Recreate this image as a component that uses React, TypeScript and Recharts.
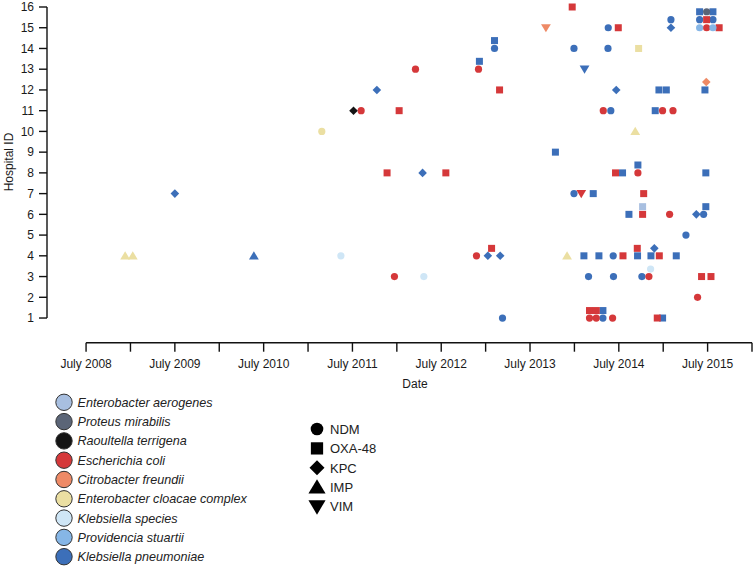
import React from 'react';
import { ScatterChart, Scatter, XAxis, YAxis, ReferenceLine } from 'recharts';

type Pt = { d: number; id: number; e: string };

// d = date as decimal year, id = hospital (fractional ids are stacked duplicates)
const kPneumoniae: Pt[] = [
  { d: 2009.5, id: 7, e: 'KPC' },
  { d: 2010.39, id: 4, e: 'IMP' },
  { d: 2011.775, id: 12, e: 'KPC' },
  { d: 2012.29, id: 8, e: 'KPC' },
  { d: 2012.93, id: 13.38, e: 'OXA' },
  { d: 2013.025, id: 4, e: 'KPC' },
  { d: 2013.1, id: 14.38, e: 'OXA' },
  { d: 2013.1, id: 14, e: 'NDM' },
  { d: 2013.164, id: 4, e: 'KPC' },
  { d: 2013.19, id: 1, e: 'NDM' },
  { d: 2013.786, id: 9, e: 'OXA' },
  { d: 2013.995, id: 14, e: 'NDM' },
  { d: 2013.995, id: 7, e: 'NDM' },
  { d: 2014.107, id: 4, e: 'OXA' },
  { d: 2014.114, id: 13, e: 'VIM' },
  { d: 2014.159, id: 3, e: 'NDM' },
  { d: 2014.212, id: 7, e: 'OXA' },
  { d: 2014.276, id: 4, e: 'OXA' },
  { d: 2014.321, id: 1.36, e: 'OXA' },
  { d: 2014.321, id: 1, e: 'NDM' },
  { d: 2014.378, id: 14, e: 'NDM' },
  { d: 2014.381, id: 15, e: 'NDM' },
  { d: 2014.41, id: 11, e: 'NDM' },
  { d: 2014.437, id: 4, e: 'NDM' },
  { d: 2014.44, id: 3, e: 'NDM' },
  { d: 2014.471, id: 12, e: 'KPC' },
  { d: 2014.542, id: 8, e: 'OXA' },
  { d: 2014.614, id: 6, e: 'OXA' },
  { d: 2014.711, id: 4, e: 'OXA' },
  { d: 2014.715, id: 8.38, e: 'OXA' },
  { d: 2014.76, id: 3, e: 'NDM' },
  { d: 2014.862, id: 4, e: 'OXA' },
  { d: 2014.9, id: 4.36, e: 'KPC' },
  { d: 2014.91, id: 11, e: 'OXA' },
  { d: 2014.952, id: 12, e: 'OXA' },
  { d: 2014.993, id: 1, e: 'OXA' },
  { d: 2015.035, id: 12, e: 'OXA' },
  { d: 2015.087, id: 15.39, e: 'NDM' },
  { d: 2015.087, id: 15, e: 'KPC' },
  { d: 2015.147, id: 4, e: 'OXA' },
  { d: 2015.256, id: 5, e: 'NDM' },
  { d: 2015.373, id: 6, e: 'KPC' },
  { d: 2015.455, id: 6, e: 'NDM' },
  { d: 2015.47, id: 12, e: 'OXA' },
  { d: 2015.48, id: 8, e: 'OXA' },
  { d: 2015.48, id: 6.37, e: 'OXA' },
  { d: 2015.41, id: 15.77, e: 'OXA' },
  { d: 2015.41, id: 15.39, e: 'NDM' },
  { d: 2015.56, id: 15.77, e: 'OXA' },
  { d: 2015.56, id: 15.39, e: 'NDM' },
];

const eColi: Pt[] = [
  { d: 2011.598, id: 11, e: 'NDM' },
  { d: 2011.89, id: 8, e: 'OXA' },
  { d: 2011.973, id: 3, e: 'NDM' },
  { d: 2012.026, id: 11, e: 'OXA' },
  { d: 2012.21, id: 13, e: 'NDM' },
  { d: 2012.552, id: 8, e: 'OXA' },
  { d: 2012.897, id: 4, e: 'NDM' },
  { d: 2012.92, id: 13, e: 'NDM' },
  { d: 2013.067, id: 4.36, e: 'OXA' },
  { d: 2013.157, id: 12, e: 'OXA' },
  { d: 2013.975, id: 16, e: 'OXA' },
  { d: 2014.077, id: 7, e: 'VIM' },
  { d: 2014.17, id: 1.36, e: 'OXA' },
  { d: 2014.17, id: 1, e: 'NDM' },
  { d: 2014.246, id: 1.36, e: 'OXA' },
  { d: 2014.246, id: 1, e: 'NDM' },
  { d: 2014.325, id: 11, e: 'NDM' },
  { d: 2014.43, id: 1, e: 'NDM' },
  { d: 2014.463, id: 8, e: 'OXA' },
  { d: 2014.494, id: 15, e: 'OXA' },
  { d: 2014.547, id: 4, e: 'OXA' },
  { d: 2014.708, id: 4.36, e: 'OXA' },
  { d: 2014.715, id: 8, e: 'NDM' },
  { d: 2014.768, id: 6, e: 'OXA' },
  { d: 2014.78, id: 7, e: 'OXA' },
  { d: 2014.839, id: 3, e: 'NDM' },
  { d: 2014.933, id: 1, e: 'OXA' },
  { d: 2014.956, id: 4, e: 'OXA' },
  { d: 2014.993, id: 11, e: 'NDM' },
  { d: 2015.072, id: 6, e: 'NDM' },
  { d: 2015.11, id: 11, e: 'NDM' },
  { d: 2015.387, id: 2, e: 'NDM' },
  { d: 2015.432, id: 3, e: 'OXA' },
  { d: 2015.538, id: 3, e: 'OXA' },
  { d: 2015.489, id: 15.39, e: 'OXA' },
  { d: 2015.489, id: 15, e: 'NDM' },
  { d: 2015.63, id: 15, e: 'OXA' },
];

const eCloacae: Pt[] = [
  { d: 2008.94, id: 4, e: 'IMP' },
  { d: 2009.026, id: 4, e: 'IMP' },
  { d: 2011.155, id: 10, e: 'NDM' },
  { d: 2013.917, id: 4, e: 'IMP' },
  { d: 2014.685, id: 10, e: 'IMP' },
  { d: 2014.723, id: 14, e: 'OXA' },
];

const kSpecies: Pt[] = [
  { d: 2011.37, id: 4, e: 'NDM' },
  { d: 2012.304, id: 3, e: 'NDM' },
  { d: 2014.858, id: 3.36, e: 'NDM' },
];

const pStuartii: Pt[] = [
  { d: 2015.41, id: 15, e: 'NDM' },
  { d: 2015.56, id: 15, e: 'NDM' },
];

const eAerogenes: Pt[] = [{ d: 2014.768, id: 6.37, e: 'OXA' }];
const pMirabilis: Pt[] = [{ d: 2015.489, id: 15.77, e: 'NDM' }];
const rTerrigena: Pt[] = [{ d: 2011.512, id: 11, e: 'KPC' }];
const cFreundii: Pt[] = [
  { d: 2013.679, id: 15, e: 'VIM' },
  { d: 2015.485, id: 12.38, e: 'KPC' },
];

const ORGANISMS = [
  'Enterobacter aerogenes',
  'Proteus mirabilis',
  'Raoultella terrigena',
  'Escherichia coli',
  'Citrobacter freundii',
  'Enterobacter cloacae complex',
  'Klebsiella species',
  'Providencia stuartii',
  'Klebsiella pneumoniae',
];
const ORG_COLORS = [
  '#a8bfe0',
  '#5b6577',
  '#141414',
  '#d5383a',
  '#ee8a66',
  '#ebdfa2',
  '#cfe6f6',
  '#86b6e6',
  '#3c6fb9',
];
const ORG_DATA = [eAerogenes, pMirabilis, rTerrigena, eColi, cFreundii, eCloacae, kSpecies, pStuartii, kPneumoniae];

const ENZYMES = ['NDM', 'OXA', 'KPC', 'IMP', 'VIM'];
const ENZYME_LABELS = ['NDM', 'OXA-48', 'KPC', 'IMP', 'VIM'];

const Y_TICKS = [1, 2, 3, 4, 5, 6, 7, 8, 9, 10, 11, 12, 13, 14, 15, 16];
const X_TICKS = [2008.5, 2009, 2009.5, 2010, 2010.5, 2011, 2011.5, 2012, 2012.5, 2013, 2013.5, 2014, 2014.5, 2015, 2015.5, 2016];
const X_TICK_LABELS = ['July 2008', '', 'July 2009', '', 'July 2010', '', 'July 2011', '', 'July 2012', '', 'July 2013', '', 'July 2014', '', 'July 2015', ''];

const X_MIN = 2008.06;
const X_MAX = 2016.0;
const Y_MIN = -0.19;
const Y_MAX = 16;

// draw order: blue first so red sits on top like the source
const DRAW_ORDER = [8, 3, 5, 6, 7, 0, 1, 2, 4];

const Marker = ({ cx, cy, enz, fill, s = 1 }: any) => {
  if (cx == null || cy == null) return null;
  switch (enz) {
    case 'OXA':
      return <rect x={cx - 3.5 * s} y={cy - 3.5 * s} width={7 * s} height={7 * s} fill={fill} />;
    case 'KPC':
      return (
        <polygon
          points={`${cx},${cy - 4.3 * s} ${cx + 4.3 * s},${cy} ${cx},${cy + 4.3 * s} ${cx - 4.3 * s},${cy}`}
          fill={fill}
        />
      );
    case 'IMP':
      return (
        <polygon
          points={`${cx},${cy - 4.6 * s} ${cx + 4.9 * s},${cy + 3.6 * s} ${cx - 4.9 * s},${cy + 3.6 * s}`}
          fill={fill}
        />
      );
    case 'VIM':
      return (
        <polygon
          points={`${cx},${cy + 4.6 * s} ${cx + 4.9 * s},${cy - 3.6 * s} ${cx - 4.9 * s},${cy - 3.6 * s}`}
          fill={fill}
        />
      );
    default:
      return <circle cx={cx} cy={cy} r={3.6 * s} fill={fill} />;
  }
};

const FONT = '"Liberation Sans", Arial, Helvetica, sans-serif';

export default function App() {
  return (
    <div style={{ position: 'absolute', left: 0, top: 0, width: 753, height: 567, fontFamily: FONT, background: '#fff' }}>
      <ScatterChart width={753} height={567} margin={{ top: 7, right: 1, left: 0, bottom: 194.3 }}>
        <XAxis
          type="number"
          dataKey="d"
          domain={[X_MIN, X_MAX]}
          ticks={X_TICKS}
          interval={0}
          height={30}
          axisLine={false}
          tickSize={9}
          tickMargin={8}
          tickLine={{ stroke: '#111', strokeWidth: 1.4 }}
          tick={{ fill: '#1a1a1a', fontSize: 12 }}
          tickFormatter={(v: number) => X_TICK_LABELS[X_TICKS.indexOf(v)] ?? ''}
        />
        <YAxis
          type="number"
          dataKey="id"
          domain={[Y_MIN, Y_MAX]}
          ticks={Y_TICKS}
          interval={0}
          width={47}
          axisLine={false}
          tickSize={8}
          tickMargin={5}
          tickLine={{ stroke: '#111', strokeWidth: 1.4 }}
          tick={{ fill: '#1a1a1a', fontSize: 12 }}
        />
        <ReferenceLine
          segment={[
            { x: 2008.5, y: Y_MIN },
            { x: X_MAX, y: Y_MIN },
          ]}
          stroke="#111"
          strokeWidth={1.4}
          ifOverflow="visible"
        />
        <ReferenceLine
          segment={[
            { x: X_MIN, y: 1 },
            { x: X_MIN, y: 16 },
          ]}
          stroke="#111"
          strokeWidth={1.4}
          ifOverflow="visible"
        />
        {DRAW_ORDER.map((i) => (
          <Scatter
            key={ORGANISMS[i]}
            name={ORGANISMS[i]}
            data={ORG_DATA[i]}
            isAnimationActive={false}
            shape={(p: any) => <Marker cx={p.cx} cy={p.cy} enz={p.payload?.e} fill={ORG_COLORS[i]} />}
          />
        ))}
      </ScatterChart>
      <svg
        width={753}
        height={567}
        style={{ position: 'absolute', left: 0, top: 0, pointerEvents: 'none', fontFamily: FONT }}
      >
        <text x={13} y={162} transform="rotate(-90 13 162)" textAnchor="middle" fontSize={12} fill="#1a1a1a">
          Hospital ID
        </text>
        <text x={415} y={388} textAnchor="middle" fontSize={12} fill="#1a1a1a">
          Date
        </text>
        {ORGANISMS.map((name, i) => (
          <g key={name}>
            <circle cx={64} cy={402.3 + i * 19.3} r={8.2} fill={ORG_COLORS[i]} stroke="#333" strokeWidth={1} />
            <text x={77.5} y={402.3 + i * 19.3 + 4.5} fontSize={12.6} fontStyle="italic" fill="#222">
              {name}
            </text>
          </g>
        ))}
        {ENZYMES.map((enz, i) => (
          <g key={enz}>
            <Marker cx={317} cy={429 + i * 19.4} enz={enz} fill="#000" s={1.75} />
            <text x={330} y={429 + i * 19.4 + 4.7} fontSize={13} fill="#222">
              {ENZYME_LABELS[i]}
            </text>
          </g>
        ))}
      </svg>
    </div>
  );
}
